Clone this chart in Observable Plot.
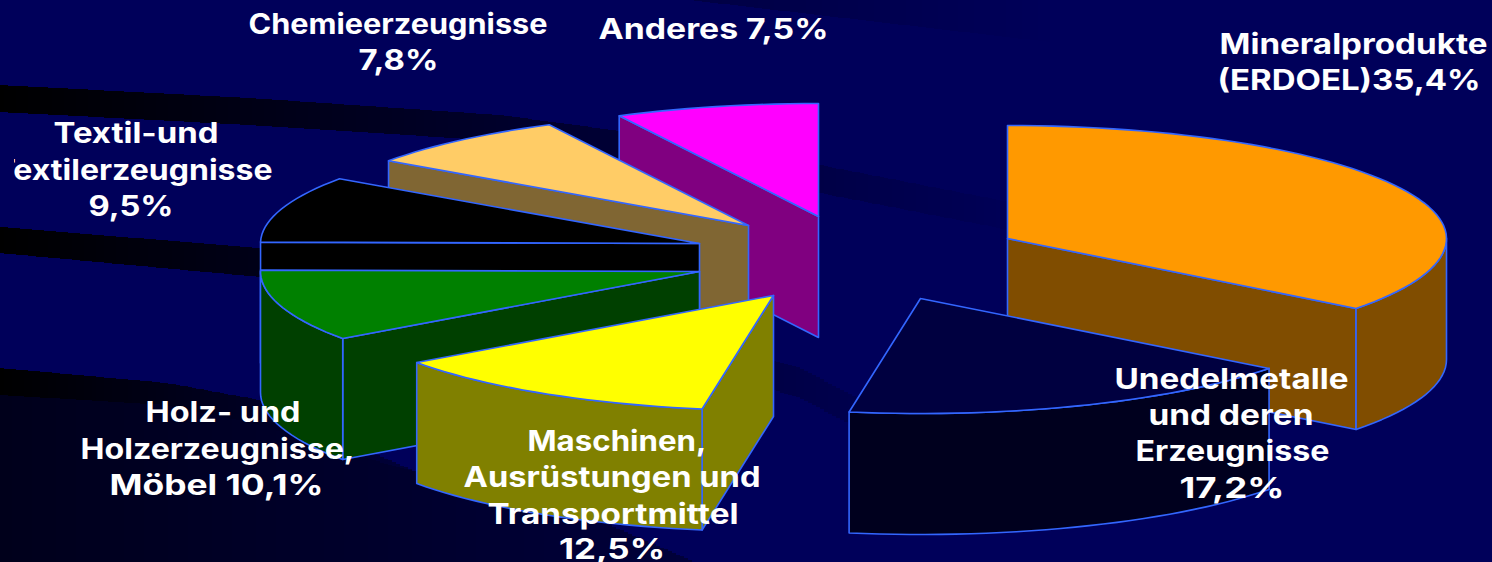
<!DOCTYPE html>
<html><head><meta charset="utf-8">
<script src="https://cdn.jsdelivr.net/npm/d3@7"></script>
<script src="https://cdn.jsdelivr.net/npm/@observablehq/plot@0.6"></script>
<style>html,body{margin:0;padding:0;background:#00005a;overflow:hidden}</style>
</head><body><div id="chart"></div>
<script>
// ---- values
const categories = ["Mineralprodukte (ERDOEL)","Unedelmetalle und deren Erzeugnisse","Maschinen, Ausrüstungen und Transportmittel","Holz- und Holzerzeugnisse, Möbel","Textil-und Textilerzeugnisse","Chemieerzeugnisse","Anderes"];
const shares = [35.4, 17.2, 12.5, 10.1, 9.5, 7.8, 7.5];
const topColors = ["#ff9900","#000040","#ffff00","#008000","#000000","#ffcc66","#ff00ff"];
const sideColors = ["#804d00","#00001e","#808000","#004000","#000000","#806633","#800080"];
// exploded position of each slice's apex, in chart units
const apexX = [1007, 920, 773, 699, 699, 748, 818];
const apexY = [238, 298, 295, 271, 243, 225, 216];
const drawOrder = [6, 5, 4, 3, 2, 0, 1];
// ellipse radii and extrusion depth
const rx = 439, ryBack = 113, ryFront = 115, depth = 121;

const labelLines = ["Chemieerzeugnisse","7,8%","Anderes 7,5%","Mineralprodukte","(ERDOEL)35,4%","Textil-und","Textilerzeugnisse","9,5%","Holz- und","Holzerzeugnisse,","Möbel 10,1%","Maschinen,","Ausrüstungen und","Transportmittel","12,5%","Unedelmetalle","und deren","Erzeugnisse","17,2%"];
const labelX = [397.5,398,713,1353,1348.5,135.5,133,130.5,222.5,217,216,616.5,611.5,612.5,611.5,1231,1230.5,1232,1231.5];
const labelY = [25,61,30,45,81,134,171,207,413,450,486,442,478,515,550,380,416,452,489];
const labelW = [299,80,230,268,263,165,278,85,155,274,214,179,297,251,106,234,165,194,105];

// ---- background decoration
const navy = "#00005a";
const poly = (xs, ys) => d3.scaleLinear().domain(xs).range(ys).clamp(false);
const strips = (x0, x1, up, low, v) => d3.range(x0, x1, 4).map(x => ({x1: x, x2: x + 4, y1: up(x + 2), y2: low(x + 2), v: v(x + 2)}));
const band1Up = poly([0,250,500,650,820,1050],[85,98,115,135,165,210]);
const band1Low = poly([0,250,500,650,820,1050],[112,125,141,162,193,238]);
const band2Up = poly([0,260,500,700,800,900],[227,248,285,340,368,420]);
const band2Low = poly([0,260,500,700,800,900],[253,277,312,368,398,450]);
const band3Up = poly([0,167,260,343,417,600,695],[368,383,400,440,472,521,562]);
const band3Mid = poly([0,167,260,343,417],[395,405,425,452,472]);
const bottom = () => 562;
const top0 = () => 0;
const bgStrips = [
  ...strips(0, 1050, band1Up, band1Low, x => Math.min(.97, x / 1050)),
  ...strips(0, 900, band2Up, band2Low, x => Math.min(.9, x / 1000)),
  ...strips(0, 696, band3Up, bottom, x => .3 + x / 2000),
  ...strips(0, 417, band3Up, band3Mid, x => x / 650),
  ...strips(690, 1050, top0, poly([690,1050],[0,42]), x => .75 + (x - 690) / 1500)
];

// ---- 3D pie geometry: everything follows from the shares
const point = (i, t, dy = 0) => {
  const c = Math.cos(t * Math.PI / 180);
  return {x: apexX[i] + rx * Math.sin(t * Math.PI / 180), y: apexY[i] - (c > 0 ? ryBack : ryFront) * c + dy};
};
const arc = (i, a, b, dy = 0) => {
  const n = Math.max(2, Math.ceil((b - a) / 2));
  return d3.range(n + 1).map(k => point(i, a + (b - a) * k / n, dy));
};
const cum = d3.cumsum(shares).map(v => v * 3.6);
const start = i => i ? cum[i - 1] : 0;
const end = i => Math.min(360, cum[i]);
const faces = [];
for (const i of drawOrder) {
  const a = start(i), b = end(i), A = {x: apexX[i], y: apexY[i]};
  const wall = t => [A, point(i, t), point(i, t, depth), {x: A.x, y: A.y + depth}, A];
  if (a > 180) faces.push({pts: wall(a), fill: sideColors[i]});
  if (b < 180) faces.push({pts: wall(b), fill: sideColors[i]});
  const o0 = Math.max(a, 90), o1 = Math.min(b, 270);
  if (o1 > o0) {
    const upper = arc(i, o0, o1), lower = arc(i, o0, o1, depth).reverse();
    faces.push({pts: [...upper, ...lower, upper[0]], fill: sideColors[i]});
  }
  faces.push({pts: [A, ...arc(i, a, b), A], fill: topColors[i]});
}

const labels = labelLines.map((text, i) => ({text, x: labelX[i], y: labelY[i]}));

const plot = Plot.plot({
  width: 1492, height: 562,
  marginTop: 0, marginRight: 0, marginBottom: 0, marginLeft: 0,
  x: {domain: [0, 1492], axis: null},
  y: {domain: [562, 0], axis: null},
  color: {type: "linear", domain: [0, 1], range: ["#000000", navy], legend: false},
  style: {background: navy},
  marks: [
    Plot.rect(bgStrips, {x1: "x1", x2: "x2", y1: "y1", y2: "y2", fill: "v", shapeRendering: "crispEdges"}),
    ...faces.map(f => Plot.line(f.pts, {x: "x", y: "y", fill: f.fill, stroke: "#3366ff", strokeWidth: 1.6, strokeLinejoin: "round", curve: "linear"})),
    Plot.text(labels, {x: "x", y: "y", text: "text", fill: "white", fontSize: 28, fontWeight: "bold", fontFamily: "Inter", lineAnchor: "middle", textAnchor: "middle"}),
    Plot.rect([{a: 0, b: 14, c: 150, d: 192}], {x1: "a", x2: "b", y1: "c", y2: "d", fill: () => 1, inset: 0})
  ]
});
// fit every label line to the width it has in the reference
d3.select(plot).selectAll("text").each(function (_, i) {
  const k = labelLines.indexOf(this.textContent);
  if (k >= 0) { this.setAttribute("textLength", labelW[k]); this.setAttribute("lengthAdjust", "spacingAndGlyphs"); }
});
document.getElementById("chart").appendChild(plot);
</script></body></html>
